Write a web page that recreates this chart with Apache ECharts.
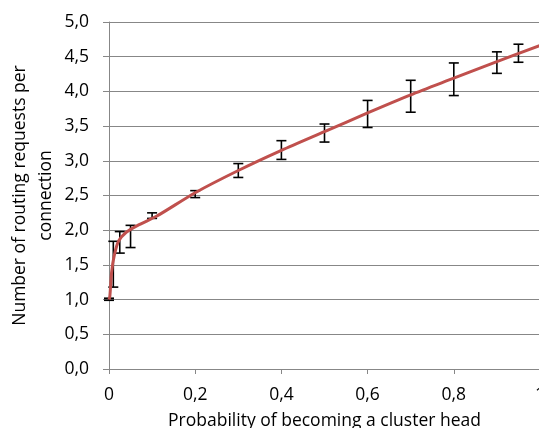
<!DOCTYPE html>
<html>
<head>
<meta charset="utf-8">
<script src="https://cdn.jsdelivr.net/npm/echarts@6/dist/echarts.min.js"></script>
<style>
  html, body { margin: 0; padding: 0; background: #fff; }
  #chart { width: 539px; height: 428px; }
</style>
</head>
<body>
<div id="chart"></div>
<script>
// fitted curve (red line)
const curveX = [0, 0.002, 0.006, 0.012, 0.022, 0.04, 0.07, 0.11, 0.2, 0.3, 0.4, 0.5, 0.6, 0.7, 0.8, 0.9, 1.0];
const curveY = [1.0, 1.05, 1.39, 1.63, 1.84, 1.97, 2.08, 2.20, 2.54, 2.86, 3.15, 3.42, 3.69, 3.95, 4.19, 4.43, 4.66];

// error bars
const barX    = [0, 0.01, 0.025, 0.05, 0.1, 0.2, 0.3, 0.4, 0.5, 0.6, 0.7, 0.8, 0.9, 0.95];
const barLow  = [0.99, 1.18, 1.67, 1.75, 2.17, 2.47, 2.76, 3.02, 3.27, 3.48, 3.70, 3.94, 4.26, 4.42];
const barHigh = [1.02, 1.84, 1.98, 2.07, 2.25, 2.57, 2.96, 3.29, 3.53, 3.87, 4.16, 4.41, 4.57, 4.68];

const xTickLabels = ['0', '0,2', '0,4', '0,6', '0,8', '1'];
const yTickLabels = ['0,0', '0,5', '1,0', '1,5', '2,0', '2,5', '3,0', '3,5', '4,0', '4,5', '5,0'];

const FONT = 'Open Sans';
const FS = 17.5;
const GRAY = '#878787';

var chart = echarts.init(document.getElementById('chart'));

var curveData = curveX.map((x, i) => [x, curveY[i]]);
var barData = barX.map((x, i) => [x, barLow[i], barHigh[i]]);

chart.setOption({
    animation: false,
    grid: { left: 109, top: 22, right: -1, bottom: 59, outerBoundsMode: 'none', containLabel: false },
    xAxis: {
        type: 'value',
        min: 0, max: 1, interval: 0.2,
        name: 'Probability of becoming a cluster head',
        nameLocation: 'middle',
        nameGap: 43,
        nameMoveOverlap: false,
        nameTextStyle: { fontFamily: FONT, fontSize: FS, color: '#000' },
        axisLine: { lineStyle: { color: GRAY, width: 1 } },
        axisTick: { show: true, length: 5, lineStyle: { color: GRAY } },
        splitLine: { show: false },
        axisLabel: {
            margin: 17,
            fontFamily: FONT, fontSize: FS, color: '#000',
            formatter: (v) => xTickLabels[Math.round(v / 0.2)]
        }
    },
    yAxis: {
        type: 'value',
        min: 0, max: 5, interval: 0.5,
        name: 'Number of routing requests per\nconnection',
        nameLocation: 'middle',
        nameGap: 50,
        nameMoveOverlap: false,
        nameTextStyle: { fontFamily: FONT, fontSize: FS, color: '#000', lineHeight: 26 },
        axisLine: { show: true, lineStyle: { color: GRAY, width: 1 } },
        axisTick: { show: true, length: 6, lineStyle: { color: GRAY } },
        splitLine: { lineStyle: { color: GRAY, width: 1 } },
        axisLabel: {
            margin: 20,
            fontFamily: FONT, fontSize: FS, color: '#000',
            formatter: (v) => yTickLabels[Math.round(v / 0.5)]
        }
    },
    series: [
        {
            type: 'custom',
            z: 3,
            data: barData,
            renderItem: function (params, api) {
                var lo = api.coord([api.value(0), api.value(1)]);
                var hi = api.coord([api.value(0), api.value(2)]);
                var w = 5;
                var style = { stroke: '#000', lineWidth: 1.6 };
                return {
                    type: 'group',
                    children: [
                        { type: 'line', shape: { x1: lo[0], y1: lo[1], x2: hi[0], y2: hi[1] }, style: style },
                        { type: 'line', shape: { x1: lo[0] - w, y1: lo[1], x2: lo[0] + w, y2: lo[1] }, style: style },
                        { type: 'line', shape: { x1: hi[0] - w, y1: hi[1], x2: hi[0] + w, y2: hi[1] }, style: style }
                    ]
                };
            }
        },
        {
            type: 'line',
            z: 4,
            data: curveData,
            showSymbol: false,
            smooth: 0.25,
            lineStyle: { color: '#C0504D', width: 3 }
        }
    ]
});
</script>
</body>
</html>
